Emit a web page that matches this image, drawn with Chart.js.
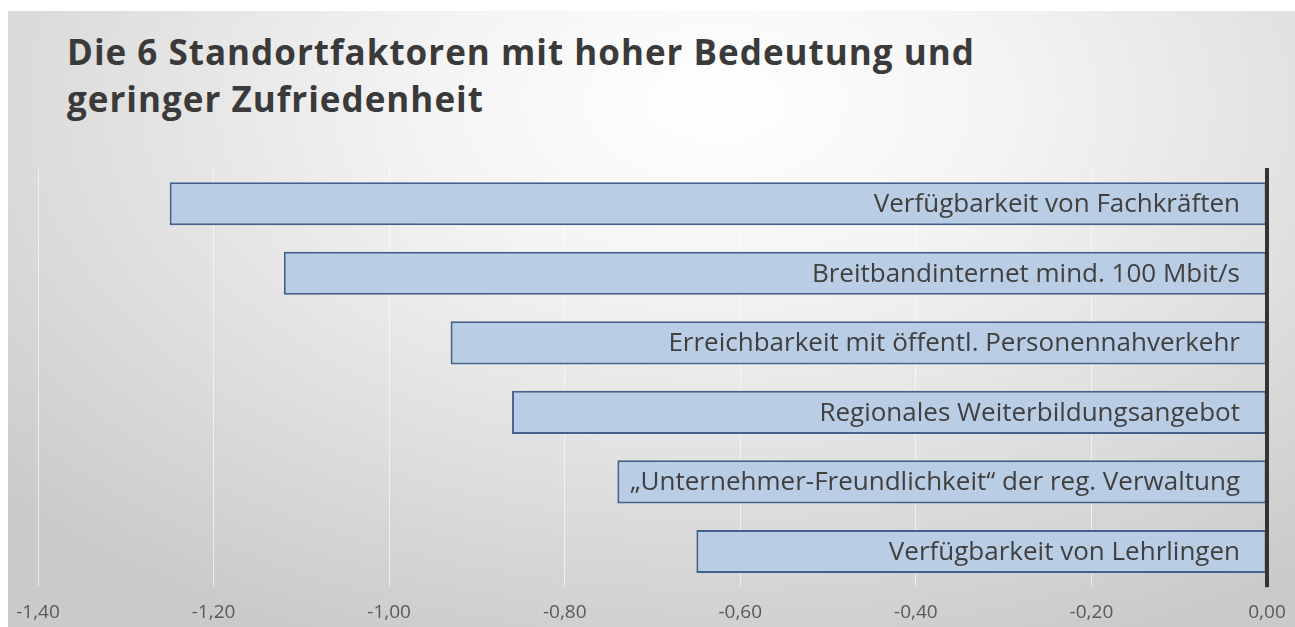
<!DOCTYPE html>
<html>
<head>
<meta charset="utf-8">
<script src="https://cdn.jsdelivr.net/npm/chart.js@4"></script>
<style>
  html, body { margin: 0; padding: 0; background: #ffffff; }
  #wrap { position: relative; width: 1295px; height: 627px; overflow: hidden; }
  #bg {
    position: absolute; left: 8px; top: 11px; right: 0; bottom: 0;
    background: radial-gradient(ellipse 75% 95% at 55% 15%, #ffffff 0%, #f4f4f4 30%, #dcdcdc 70%, #cacaca 100%);
  }
  #titel {
    position: absolute; left: 67px; top: 28px;
    font-family: "Open Sans", Lato, sans-serif; font-weight: bold;
    font-size: 35px; line-height: 47px; letter-spacing: 1px; color: #3a3a3a;
  }
  canvas { position: absolute; left: 0; top: 0; }
</style>
</head>
<body>
<div id="wrap">
  <div id="bg"></div>
  <div id="titel">Die 6 Standortfaktoren mit hoher Bedeutung und<br>geringer Zufriedenheit</div>
  <canvas id="grafico" width="1295" height="627"></canvas>
</div>
<script>
// Daten
const faktoren = [
    'Verfügbarkeit von Fachkräften',
    'Breitbandinternet mind. 100 Mbit/s',
    'Erreichbarkeit mit öffentl. Personennahverkehr',
    'Regionales Weiterbildungsangebot',
    '„Unternehmer-Freundlichkeit“ der reg. Verwaltung',
    'Verfügbarkeit von Lehrlingen'
];
const werte = [-1.25, -1.12, -0.93, -0.86, -0.74, -0.65];
const achseMin = -1.40;
const achseMax = 0.00;
const achseSchritt = 0.20;

// Beschriftung in den Balken + Nulllinie
const balkenText = {
    id: 'balkenText',
    afterDatasetsDraw(chart) {
        const ctx = chart.ctx;
        const x0 = chart.scales.x.getPixelForValue(0);
        const meta = chart.getDatasetMeta(0);
        ctx.save();
        ctx.font = '26px "Open Sans", Lato, sans-serif';
        ctx.fillStyle = '#404040';
        ctx.textAlign = 'right';
        ctx.textBaseline = 'middle';
        meta.data.forEach((bar, i) => {
            ctx.fillText(faktoren[i], x0 - 27, bar.y + 1);
        });
        ctx.strokeStyle = '#333333';
        ctx.lineWidth = 4;
        ctx.beginPath();
        ctx.moveTo(x0, chart.chartArea.top - 1);
        ctx.lineTo(x0, chart.chartArea.bottom + 1);
        ctx.stroke();
        ctx.restore();
    }
};

const ctx = document.getElementById('grafico').getContext('2d');
new Chart(ctx, {
    type: 'bar',
    data: {
        labels: faktoren,
        datasets: [{
            data: werte,
            backgroundColor: '#b9cde5',
            borderColor: '#42618b',
            borderWidth: 2,
            borderSkipped: false,
            categoryPercentage: 0.62,
            barPercentage: 1.0
        }]
    },
    options: {
        indexAxis: 'y',
        responsive: false,
        animation: false,
        layout: { padding: { left: 38, right: 28, top: 169, bottom: -12 } },
        plugins: {
            legend: { display: false },
            tooltip: { enabled: false }
        },
        scales: {
            x: {
                min: achseMin,
                max: achseMax,
                border: { display: false },
                afterFit: scale => { scale.paddingLeft = 0; scale.paddingRight = 0; },
                grid: {
                    color: 'rgba(255,255,255,0.6)',
                    lineWidth: 1,
                    drawTicks: false
                },
                ticks: {
                    stepSize: achseSchritt,
                    padding: 15,
                    color: '#595959',
                    font: { family: '"Open Sans", Lato, sans-serif', size: 19 },
                    maxRotation: 0,
                    callback: v => v.toFixed(2).replace('.', ',')
                }
            },
            y: {
                display: false
            }
        }
    },
    plugins: [balkenText]
});
</script>
</body>
</html>
